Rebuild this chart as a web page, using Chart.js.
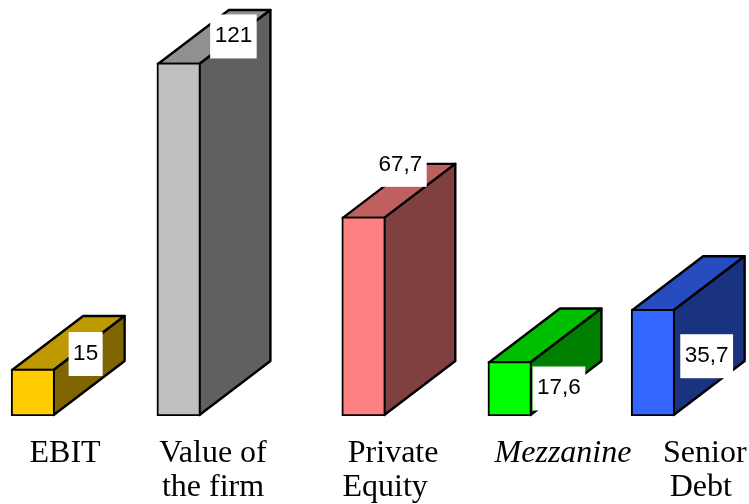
<!DOCTYPE html>
<html>
<head>
<meta charset="utf-8">
<title>Capital structure</title>
<script src="https://cdn.jsdelivr.net/npm/chart.js@4/dist/chart.umd.min.js"></script>
<style>
  html, body { margin: 0; padding: 0; background: #fff; }
  canvas { display: block; }
</style>
</head>
<body>
<canvas id="myChart" width="749" height="504"></canvas>
<script>
// values
const categories = [['EBIT'], ['Value of', 'the firm'], ['Private', 'Equity\u00a0\u00a0'], ['Mezzanine'], ['Senior', 'Debt\u00a0']];
const values = [15, 121, 67.7, 17.6, 35.7];

// the bars are not evenly spaced, so x is a linear axis in slot units
const barSlots = [0, 3.99, 9.05, 13.05, 16.97];
const tickSlots = [0.88, 4.93, 9.86, 14.51, 18.39];

const frontColors = ['#FFCC00', '#C0C0C0', '#FF8080', '#00FF00', '#3366FF'];
const topColors = ['#BF9900', '#909090', '#BF6060', '#00BF00', '#264CBF'];
const sideColors = ['#806600', '#606060', '#804040', '#008000', '#1A3380'];

// value box centre, relative to the front top right of each bar
const boxOffsets = [[31, -15], [33, -26.5], [15, -52], [27.5, 27], [32, 47]];

const depthX = 71;
const depthY = 54;

function face(ctx, points, color) {
    ctx.beginPath();
    ctx.moveTo(points[0][0], points[0][1]);
    for (let i = 1; i < points.length; i++) {
        ctx.lineTo(points[i][0], points[i][1]);
    }
    ctx.closePath();
    ctx.fillStyle = color;
    ctx.fill();
    ctx.stroke();
}

const boxes3d = {
    id: 'boxes3d',
    beforeDatasetsDraw(chart) {
        const ctx = chart.ctx;
        ctx.save();
        ctx.lineWidth = 2.4;
        ctx.strokeStyle = '#000';
        ctx.lineJoin = 'round';
        chart.getDatasetMeta(0).data.forEach(function(bar, i) {
            const r = bar.x + bar.width / 2 - 1;
            const l = bar.x - bar.width / 2 + 1;
            const t = bar.y + 1;
            const b = bar.base - 1;
            face(ctx, [[l, t], [r, t], [r + depthX, t - depthY], [l + depthX, t - depthY]], topColors[i]);
            face(ctx, [[r, t], [r + depthX, t - depthY], [r + depthX, b - depthY], [r, b]], sideColors[i]);
        });
        ctx.restore();
    },
    afterDatasetsDraw(chart) {
        const ctx = chart.ctx;
        ctx.save();
        ctx.font = '22.5px "Liberation Sans"';
        ctx.textAlign = 'center';
        chart.getDatasetMeta(0).data.forEach(function(bar, i) {
            const text = String(values[i]).replace('.', ',');
            const w = ctx.measureText(text).width + 9;
            const cx = bar.x + bar.width / 2 + boxOffsets[i][0];
            const cy = bar.y + boxOffsets[i][1];
            ctx.fillStyle = '#fff';
            ctx.fillRect(cx - w / 2, cy - 22, w, 44);
            ctx.fillStyle = '#000';
            ctx.fillText(text, cx, cy + 6);
        });
        ctx.restore();
    }
};

const ctx = document.getElementById('myChart').getContext('2d');
const myChart = new Chart(ctx, {
    type: 'bar',
    data: {
        datasets: [{
            data: values.map(function(v, i) { return { x: barSlots[i], y: v }; }),
            base: -1.28,
            backgroundColor: frontColors,
            borderColor: '#000',
            borderWidth: 2,
            borderSkipped: false,
            barThickness: 43.5
        }]
    },
    options: {
        responsive: false,
        animation: false,
        layout: { padding: 0 },
        plugins: { legend: { display: false }, tooltip: { enabled: false } },
        scales: {
            x: {
                type: 'linear',
                offset: false,
                min: -0.9,
                max: 19.6,
                grid: { display: false, drawTicks: false },
                border: { display: false },
                afterBuildTicks(scale) {
                    scale.ticks = tickSlots.map(function(v) { return { value: v }; });
                },
                afterFit(scale) {
                    scale.height = 88;
                    // the labels sit well inside the canvas, no need to reserve room for them
                    scale.paddingLeft = 0;
                    scale.paddingRight = 0;
                },
                ticks: {
                    autoSkip: false,
                    maxRotation: 0,
                    padding: 21,
                    color: '#000',
                    font: function(c) {
                        return {
                            family: '"Liberation Serif"',
                            size: 32,
                            lineHeight: 1.06,
                            style: c.index === 3 ? 'italic' : 'normal'
                        };
                    },
                    callback: function(value, index) {
                        return categories[index];
                    }
                }
            },
            y: {
                display: false,
                min: -1.28,
                max: 142.8
            }
        }
    },
    plugins: [boxes3d]
});
</script>
</body>
</html>
